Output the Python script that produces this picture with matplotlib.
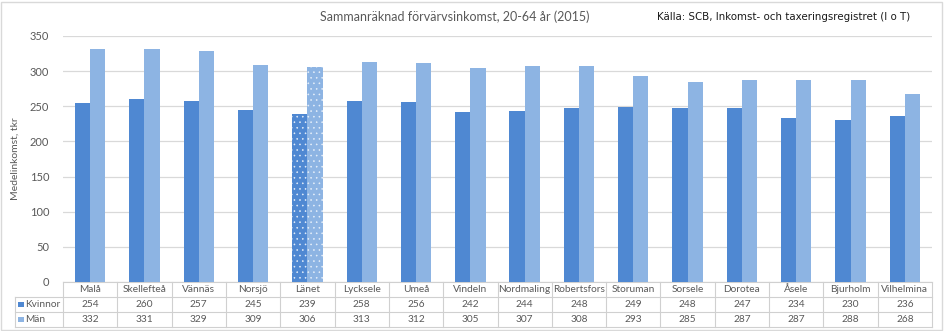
import matplotlib
matplotlib.use("Agg")
import matplotlib.pyplot as plt
import matplotlib.transforms as mtransforms
from matplotlib.patches import Rectangle
import numpy as np

categories = ["Malå", "Skellefteå", "Vännäs", "Norsjö", "Länet", "Lycksele", "Umeå", "Vindeln",
              "Nordmaling", "Robertsfors", "Storuman", "Sorsele", "Dorotea", "Åsele", "Bjurholm", "Vilhelmina"]
kvinnor = [254, 260, 257, 245, 239, 258, 256, 242, 244, 248, 249, 248, 247, 234, 230, 236]
man = [332, 331, 329, 309, 306, 313, 312, 305, 307, 308, 293, 285, 287, 287, 288, 268]
series_names = ["Kvinnor", "Män"]

kv_color = "#4f88d2"
man_color = "#8db4e3"
grid_color = "#d9d9d9"
text_color = "#595959"
line_color = "#d0d0d0"

plt.rcParams["font.family"] = ["Lato", "DejaVu Sans"]
plt.rcParams["hatch.linewidth"] = 0.4

fig = plt.figure(figsize=(9.44, 3.31), dpi=100)
ax = fig.add_axes([63 / 944, 1 - 282 / 331, (932 - 63) / 944, (282 - 36) / 331])

x = np.arange(len(categories))
w = 0.28
bars_k = ax.bar(x - w / 2, kvinnor, w, color=kv_color, linewidth=0, zorder=3)
bars_m = ax.bar(x + w / 2, man, w, color=man_color, linewidth=0, zorder=3)
i_lan = categories.index("Länet")
for b in (bars_k[i_lan], bars_m[i_lan]):
    b.set_hatch("...")
    b.set_edgecolor("#e8f0fa")
    b.set_linewidth(0)

ax.set_xlim(-0.5, len(categories) - 0.5)
ax.set_ylim(0, 350)
ax.set_yticks(range(0, 351, 50))
ax.yaxis.grid(True, color=grid_color, linewidth=0.9, zorder=0)
ax.set_axisbelow(True)
ax.tick_params(axis="y", length=0, labelsize=8, labelcolor=text_color, pad=10)
ax.set_xticks([])
for s in ax.spines.values():
    s.set_visible(False)
ax.set_ylabel("Medelinkomst, tkr", fontsize=7.5, color=text_color, labelpad=7)

# data table under the plot
trans = mtransforms.blended_transform_factory(ax.transData, ax.transAxes)
rh = 15 / 246
lab_left = -0.5 - 48 / (869 / 16)
right = len(categories) - 0.5
kw = dict(transform=trans, clip_on=False, color=line_color, linewidth=0.8)
ax.plot([-0.5, right], [0, 0], **kw)
for r in (1, 2, 3):
    ax.plot([lab_left, right], [-r * rh, -r * rh], **kw)
for i in range(len(categories) + 1):
    ax.plot([i - 0.5, i - 0.5], [0, -3 * rh], **kw)
ax.plot([lab_left, lab_left], [-rh, -3 * rh], **kw)

fs = 7.3
for i, c in enumerate(categories):
    ax.text(i, -0.5 * rh, c, transform=trans, ha="center", va="center", fontsize=fs, color=text_color)
    ax.text(i, -1.5 * rh, str(kvinnor[i]), transform=trans, ha="center", va="center", fontsize=fs, color=text_color)
    ax.text(i, -2.5 * rh, str(man[i]), transform=trans, ha="center", va="center", fontsize=fs, color=text_color)

for r, (name, col) in enumerate(zip(series_names, [kv_color, man_color])):
    yc = -(r + 1.5) * rh
    ax.add_patch(Rectangle((lab_left + 0.06, yc - 0.012), 0.1, 0.024, transform=trans,
                           facecolor=col, edgecolor="none", clip_on=False))
    ax.text(lab_left + 0.18, yc, name, transform=trans, ha="left", va="center", fontsize=fs, color=text_color)

fig.text(455 / 944, 1 - 17 / 331, "Sammanräknad förvärvsinkomst, 20-64 år (2015)", ha="center", va="center",
         fontsize=9, color=text_color)
fig.text(657 / 944, 1 - 17 / 331, "Källa: SCB, Inkomst- och taxeringsregistret (I o T)", ha="left", va="center",
         fontsize=7.4, color="#1a1a1a", family=["DejaVu Sans"])

fig.patches.append(Rectangle((1 / 944, 1 / 331), 941 / 944, 328 / 331, transform=fig.transFigure,
                             facecolor="none", edgecolor="#d9d9d9", linewidth=1))

fig.savefig("out.png", dpi=100)
